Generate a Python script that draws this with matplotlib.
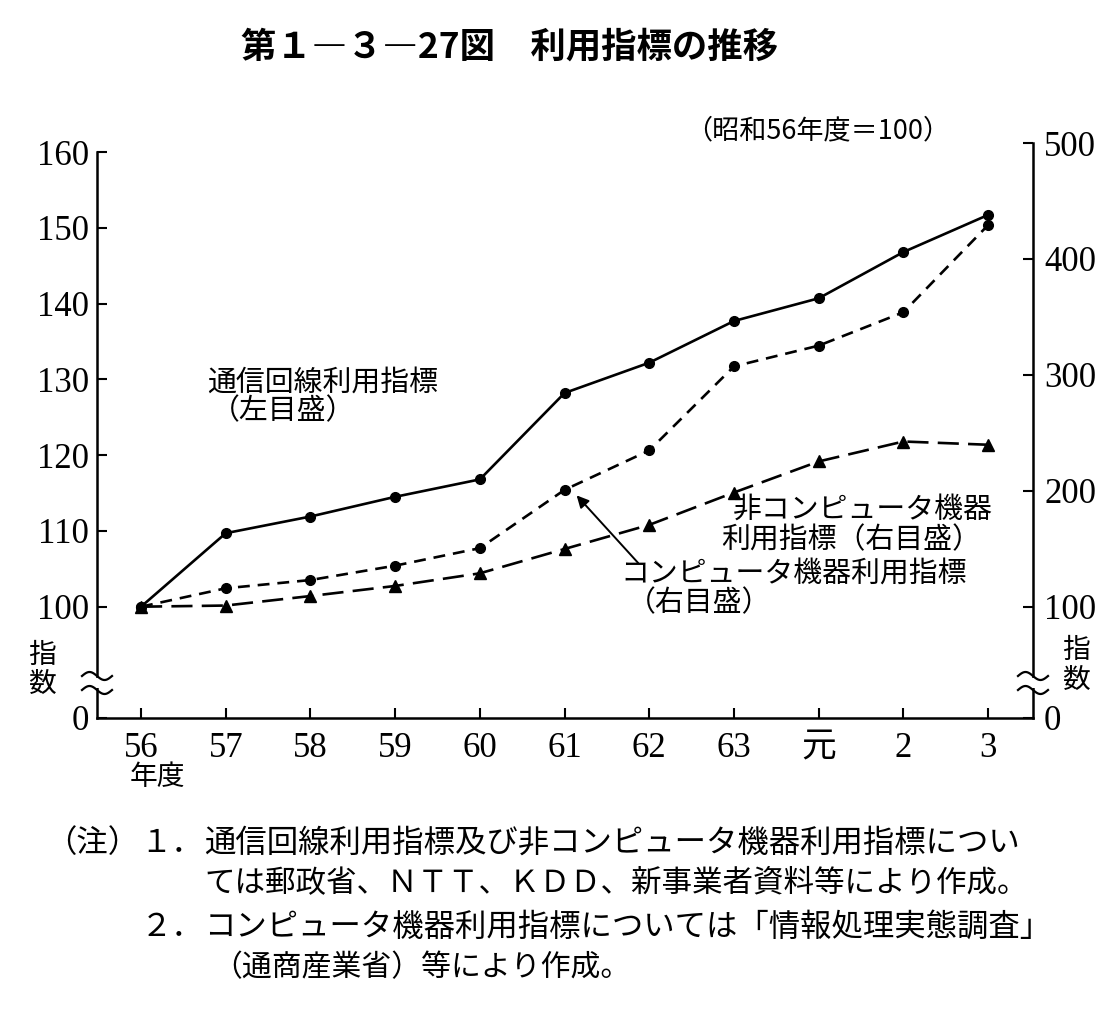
import numpy as np
import matplotlib
matplotlib.use("Agg")
import matplotlib.pyplot as plt
from matplotlib.lines import Line2D
from matplotlib.patches import Rectangle

# ---------------- data ----------------
years = ["56", "57", "58", "59", "60", "61", "62", "63", "元", "2", "3"]
line_index = [100, 109.7, 111.9, 114.5, 116.8, 128.2, 132.2, 137.7, 140.7, 146.8, 151.7]      # left axis
computer_index = [100, 115.9, 123.0, 135.4, 150.5, 200.8, 234.8, 307.3, 325.2, 354.0, 429.2]  # right axis
noncomputer_index = [100, 101.0, 109.2, 117.9, 128.8, 149.8, 170.6, 198.5, 225.3, 242.5, 239.7]  # right axis
left_ticks = [100, 110, 120, 130, 140, 150, 160]
right_ticks = [100, 200, 300, 400, 500]

W, H = 1111, 1027
JP = ["Noto Sans CJK JP", "DejaVu Sans"]
SERIF = ["Liberation Serif", "DejaVu Serif"]

fig = plt.figure(figsize=(W / 100, H / 100), dpi=100)

def fx(x):
    return x / W

def fy(y):
    return 1 - y / H

ax_l, ax_r, ax_b, ax_t = 97, 1033, 718, 143
ax = fig.add_axes([fx(ax_l), fy(ax_b), fx(ax_r) - fx(ax_l), fy(ax_t) - fy(ax_b)])
ax2 = ax.twinx()

# left axis mapping (broken axis: 0 drawn at the bottom)
pxu_l = 7.578
y100 = 606.7
l_bottom = 100 - (ax_b - y100) / pxu_l
l_top = 100 + (y100 - ax_t) / pxu_l
ax.set_ylim(l_bottom, l_top)
# right axis mapping
pxu_r = (y100 - ax_t) / 400
r_bottom = 100 - (ax_b - y100) / pxu_r
ax2.set_ylim(r_bottom, 500)

x = np.arange(len(years))
ax.set_xlim(-0.52, 10.53)

ax.plot(x, line_index, color="black", lw=1.9, marker="o", ms=7, zorder=5)
ax2.plot(x, computer_index, color="black", lw=1.9, ls=(0, (4.5, 3)), marker="o", ms=7, zorder=5)
ax2.plot(x, noncomputer_index, color="black", lw=1.9, ls=(0, (8, 3.5)), marker="^", ms=8, zorder=5)

# spines
for a in (ax, ax2):
    a.spines["top"].set_visible(False)
    for s in a.spines.values():
        s.set_linewidth(1.8)
ax.spines["right"].set_visible(False)
ax2.spines["left"].set_visible(False)
ax2.spines["bottom"].set_visible(False)
ax.spines["left"].set_bounds(l_bottom, 160)

# ticks
ax.set_yticks([l_bottom] + left_ticks)
ax.set_yticklabels(["0"] + [str(t) for t in left_ticks], family=SERIF, fontsize=25)
ax2.set_yticks([r_bottom] + right_ticks)
ax2.set_yticklabels(["0"] + [str(t) for t in right_ticks], family=SERIF, fontsize=25)
ax.set_xticks(x)
ax.set_xticklabels(years, family=["Liberation Serif", "Noto Sans CJK JP"], fontsize=25)
ax.tick_params(axis="y", direction="in", length=7, width=1.5, pad=6)
ax2.tick_params(axis="y", direction="in", length=7, width=1.5, pad=8)
ax.tick_params(axis="x", direction="in", length=7, width=1.5, pad=10)

# axis break symbols
def brk(xc):
    rect = Rectangle((fx(xc - 4), fy(688)), fx(8), fy(678) - fy(688), transform=fig.transFigure,
                     facecolor="white", edgecolor="none", zorder=10)
    fig.add_artist(rect)
    for y0 in (676, 690):
        xs = np.linspace(xc - 15, xc + 15, 60)
        ys = y0 - 4 * np.sin((xs - (xc - 15)) / 30 * 2 * np.pi)
        fig.add_artist(Line2D(fx(xs), fy(ys), transform=fig.transFigure, color="black", lw=1.6, zorder=11))

brk(ax_l)
brk(ax_r)

# axis word labels
fig.text(fx(42), fy(655), "指", family=JP, fontsize=20, ha="center", va="center")
fig.text(fx(42), fy(684), "数", family=JP, fontsize=20, ha="center", va="center")
fig.text(fx(1076), fy(650), "指", family=JP, fontsize=20, ha="center", va="center")
fig.text(fx(1076), fy(680), "数", family=JP, fontsize=20, ha="center", va="center")
fig.text(fx(157), fy(777), "年度", family=JP, fontsize=20, ha="center", va="center")

# title & unit
fig.text(fx(510), fy(47), "第１―３―27図　利用指標の推移", family=JP, fontsize=25.5,
         fontweight="bold", ha="center", va="center")
fig.text(fx(818), fy(131), "（昭和56年度＝100）", family=JP, fontsize=19.5, ha="center", va="center")

# series labels
fs_l = 20.8
fig.text(fx(207), fy(383), "通信回線利用指標", family=JP, fontsize=fs_l, ha="left", va="center")
fig.text(fx(211), fy(411), "（左目盛）", family=JP, fontsize=fs_l, ha="left", va="center")
fig.text(fx(733), fy(510), "非コンピュータ機器", family=JP, fontsize=fs_l, ha="left", va="center")
fig.text(fx(721), fy(540), "利用指標（右目盛）", family=JP, fontsize=fs_l, ha="left", va="center")
fig.text(fx(620), fy(574), "コンピュータ機器利用指標", family=JP, fontsize=fs_l, ha="left", va="center")
fig.text(fx(627), fy(603), "（右目盛）", family=JP, fontsize=fs_l, ha="left", va="center")

ax2.annotate("", xy=(5.12, computer_index[5] - 3), xycoords="data",
             xytext=(640, H - 565), textcoords="figure pixels",
             arrowprops=dict(arrowstyle="-|>", color="black", lw=1.4, mutation_scale=18))

# notes
fs_n = 22.6
fig.text(fx(139), fy(843), "（注）", family=JP, fontsize=fs_n, ha="right", va="center")
fig.text(fx(203), fy(843), "１．", family=JP, fontsize=fs_n, ha="right", va="center")
fig.text(fx(204), fy(843), "通信回線利用指標及び非コンピュータ機器利用指標につい",
         family=JP, fontsize=fs_n, ha="left", va="center")
fig.text(fx(204), fy(884), "ては郵政省、ＮＴＴ、ＫＤＤ、新事業者資料等により作成。",
         family=JP, fontsize=22, ha="left", va="center")
fig.text(fx(203), fy(927), "２．", family=JP, fontsize=fs_n, ha="right", va="center")
fig.text(fx(204), fy(927), "コンピュータ機器利用指標については「情報処理実態調査」",
         family=JP, fontsize=fs_n, ha="left", va="center")
fig.text(fx(212), fy(968), "（通商産業省）等により作成。",
         family=JP, fontsize=21.5, ha="left", va="center")

fig.savefig("out.png", dpi=100, facecolor="white")
